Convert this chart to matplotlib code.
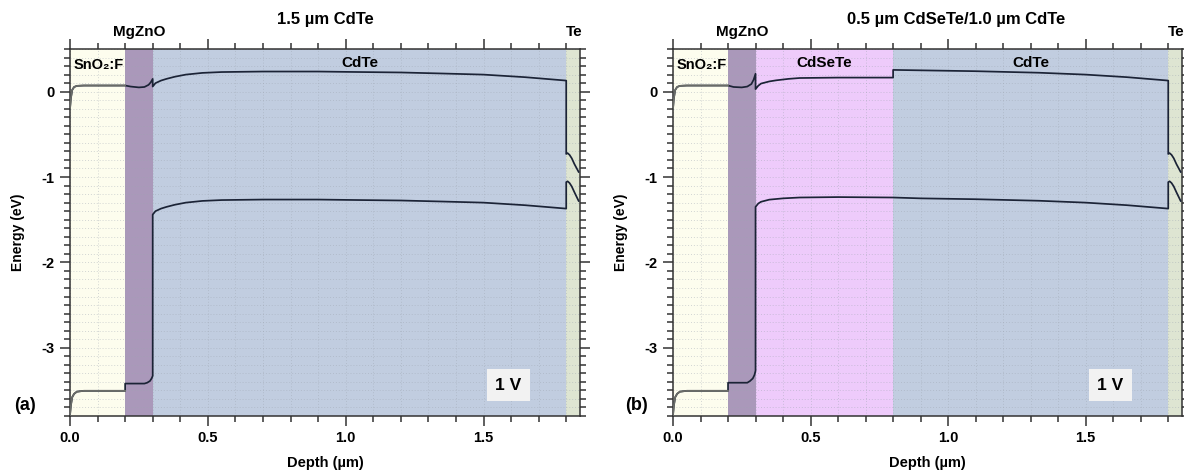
import matplotlib
matplotlib.use('Agg')
from matplotlib import pyplot as plt
from matplotlib.ticker import MultipleLocator

plt.rcParams['font.family'] = ['Liberation Sans', 'DejaVu Sans']
plt.rcParams['font.weight'] = 'bold'
plt.rcParams['axes.unicode_minus'] = False

# layer stacks, depth in um
layers_a = [('SnO2:F', 0.0, 0.2), ('MgZnO', 0.2, 0.3), ('CdTe', 0.3, 1.8), ('Te', 1.8, 1.85)]
layers_b = [('SnO2:F', 0.0, 0.2), ('MgZnO', 0.2, 0.3), ('CdSeTe', 0.3, 0.8),
            ('CdTe', 0.8, 1.8), ('Te', 1.8, 1.85)]

# front contact part of both bands (same in both devices)
tco_x = [0.0, 0.003, 0.008, 0.015, 0.025, 0.05, 0.2]
tco_cb = [-0.2, -0.08, 0.02, 0.055, 0.068, 0.072, 0.072]
tco_vb = [-3.79, -3.68, -3.58, -3.54, -3.515, -3.505, -3.505]

# back contact (Te) part
te_x = [1.8, 1.805, 1.812, 1.82, 1.83, 1.845]
te_cb = [-0.73, -0.72, -0.74, -0.78, -0.85, -0.94]
te_vb = [-1.06, -1.05, -1.07, -1.11, -1.18, -1.28]

# (a) 1.5 um CdTe: conduction band
cb_x_a = [0.2, 0.22, 0.25, 0.27, 0.285, 0.293, 0.3, 0.3, 0.31, 0.33, 0.35, 0.38, 0.42,
          0.48, 0.55, 0.7, 0.9, 1.0, 1.2, 1.35, 1.5, 1.65, 1.8]
cb_e_a = [0.072, 0.06, 0.05, 0.055, 0.08, 0.11, 0.15, 0.06, 0.1, 0.13, 0.15, 0.175, 0.2,
          0.22, 0.23, 0.236, 0.236, 0.232, 0.225, 0.213, 0.2, 0.17, 0.13]
# (a) valence band
vb_x_a = [0.2, 0.27, 0.28, 0.29, 0.296, 0.3, 0.3, 0.31, 0.33, 0.35, 0.38, 0.42, 0.48,
          0.55, 0.7, 0.9, 1.0, 1.2, 1.35, 1.5, 1.65, 1.8]
vb_e_a = [-3.42, -3.42, -3.41, -3.39, -3.36, -3.33, -1.44, -1.4, -1.37, -1.35, -1.325, -1.3,
          -1.28, -1.27, -1.264, -1.264, -1.268, -1.275, -1.287, -1.3, -1.33, -1.37]

# (b) 0.5 um CdSeTe / 1.0 um CdTe: conduction band
cb_x_b = [0.2, 0.22, 0.25, 0.27, 0.285, 0.293, 0.3, 0.3, 0.31, 0.32, 0.35, 0.375, 0.42,
          0.46, 0.6, 0.8, 0.8, 0.9, 1.1, 1.33, 1.5, 1.65, 1.8]
cb_e_b = [0.072, 0.055, 0.05, 0.06, 0.09, 0.14, 0.21, 0.03, 0.07, 0.095, 0.12, 0.133, 0.15,
          0.16, 0.165, 0.165, 0.255, 0.25, 0.24, 0.222, 0.2, 0.17, 0.13]
# (b) valence band
vb_x_b = [0.2, 0.27, 0.28, 0.29, 0.296, 0.3, 0.3, 0.31, 0.32, 0.35, 0.4, 0.46, 0.6, 0.8,
          0.9, 1.1, 1.33, 1.5, 1.65, 1.8]
vb_e_b = [-3.41, -3.41, -3.39, -3.36, -3.32, -3.27, -1.35, -1.31, -1.29, -1.265, -1.25,
          -1.24, -1.235, -1.24, -1.25, -1.26, -1.278, -1.3, -1.33, -1.37]

bias = '1 V'

layer_colors = {'SnO2:F': '#fdfdee', 'MgZnO': '#aa98ba', 'CdTe': '#c1cde0',
                'CdSeTe': '#eecbfb', 'Te': '#dee5d2'}
band_color = '#1b2336'
tco_color = '#6a6c68'


def draw_panel(ax, layers, cb_x, cb_e, vb_x, vb_e, title, title_x, tag, tag_x):
    for name, x0, x1 in layers:
        ax.axvspan(x0, x1, color=layer_colors[name], lw=0, zorder=1)

    # full bands, then the TCO part drawn over in grey
    for x, e, tco_e, te_e in [(cb_x, cb_e, tco_cb, te_cb), (vb_x, vb_e, tco_vb, te_vb)]:
        ax.plot(tco_x + x + te_x, tco_e + e + te_e, color=band_color, lw=1.25, zorder=3)
        ax.plot(tco_x, tco_e, color=tco_color, lw=1.25, zorder=4)

    ax.set_xlim(0, 1.85)
    ax.set_ylim(-3.8, 0.5)
    ax.xaxis.set_major_locator(MultipleLocator(0.5))
    ax.xaxis.set_minor_locator(MultipleLocator(0.1))
    ax.yaxis.set_major_locator(MultipleLocator(1))
    ax.yaxis.set_minor_locator(MultipleLocator(0.1))
    ax.xaxis.set_major_formatter(lambda v, p: f'{v:.1f}')
    ax.yaxis.set_major_formatter(lambda v, p: f'{v:.0f}')
    ax.tick_params(which='both', direction='out', top=True, right=True, width=1.1,
                   color='#333333', labelsize=10.5, pad=4)
    ax.tick_params(which='major', length=7)
    ax.tick_params(which='minor', length=4.5)
    for s in ax.spines.values():
        s.set_linewidth(1.1)
        s.set_color('#333333')
    ax.grid(which='both', color='#9ea6b2', lw=0.7, ls=(0, (1, 2)), alpha=0.45)

    ax.set_xlabel('Depth (µm)', fontsize=10.5, fontweight='bold')
    ax.set_ylabel('Energy (eV)', fontsize=10, fontweight='bold')
    ax.xaxis.set_label_coords(0.5, -0.108)
    ax.yaxis.set_label_coords(-0.088, 0.5)

    # layer names
    ax.text(0.25, 0.7, 'MgZnO', ha='center', va='center', fontsize=11,
            fontweight='bold', clip_on=False)
    ax.text(1.83, 0.7, 'Te', ha='center', va='center', fontsize=11,
            fontweight='bold', clip_on=False)
    ax.text(0.012, 0.31, 'SnO₂:F', ha='left', va='center', fontsize=10.5, fontweight='bold')
    for name, x0, x1 in layers:
        if name in ('CdTe', 'CdSeTe'):
            ax.text((x0 + x1) / 2, 0.34, name, ha='center', va='center', fontsize=11,
                    fontweight='bold')

    ax.text(title_x, 0.85, title, ha='center', va='center', fontsize=12,
            fontweight='bold', clip_on=False)
    ax.text(1.59, -3.44, bias, ha='center', va='center', fontsize=12.5, fontweight='bold',
            bbox=dict(boxstyle='square,pad=0.5', facecolor='#f2f2f2', edgecolor='none'),
            zorder=5)
    ax.figure.text(tag_x, 1 - 405 / 474, tag, ha='center', va='center', fontsize=13,
                   fontweight='bold')


fig = plt.figure(figsize=(11.84, 4.74), dpi=100)
ax_a = fig.add_axes([70 / 1184, 58 / 474, 510 / 1184, 367 / 474])
ax_b = fig.add_axes([673 / 1184, 58 / 474, 509 / 1184, 367 / 474])

draw_panel(ax_a, layers_a, cb_x_a, cb_e_a, vb_x_a, vb_e_a, '1.5 µm CdTe', 0.927,
           '(a)', 25 / 1184)
draw_panel(ax_b, layers_b, cb_x_b, cb_e_b, vb_x_b, vb_e_b,
           '0.5 µm CdSeTe/1.0 µm CdTe', 1.03, '(b)', 636 / 1184)

fig.savefig('out.png', dpi=100)
